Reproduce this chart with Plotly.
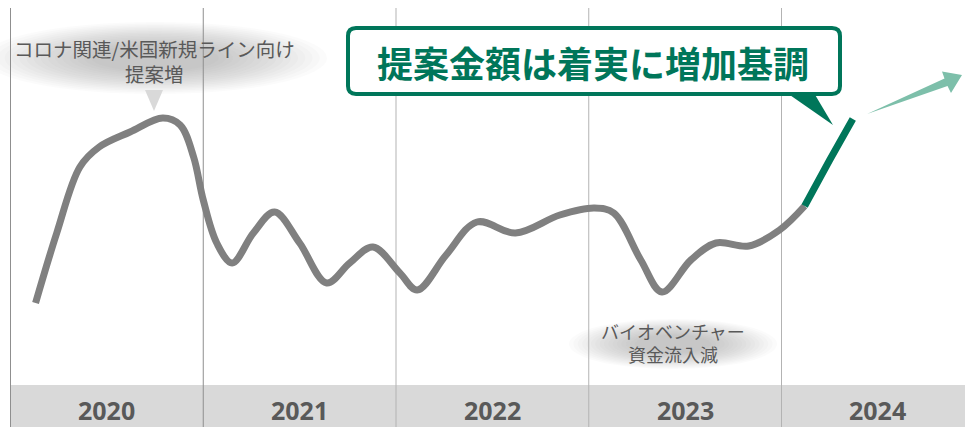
import plotly.graph_objects as go

# ---------------- data ----------------
years = [2020, 2021, 2022, 2023, 2024]
year_labels = ["2020", "2021", "2022", "2023", "2024"]

# proposal amount index over time (fractional years)
t_hist = [2020.13, 2020.24, 2020.36, 2020.46, 2020.62, 2020.79, 2020.88, 2020.95,
          2021.00, 2021.07, 2021.15, 2021.26, 2021.37, 2021.50, 2021.64, 2021.76,
          2021.88, 2022.02, 2022.11, 2022.26, 2022.42, 2022.62, 2022.85, 2023.03,
          2023.13, 2023.27, 2023.38, 2023.53, 2023.66, 2023.83, 2023.99, 2024.12]
v_hist = [124, 194, 260, 280, 295, 309, 302, 270,
          227, 184, 164, 194, 215, 184, 144, 164,
          180, 154, 137, 172, 205, 194, 212, 219,
          214, 167, 135, 167, 184, 181, 197, 221]

t_recent = [2024.12, 2024.25, 2024.37]
v_recent = [221, 267, 308]

note_top = "コロナ関連/米国新規ライン向け<br>提案増"
note_bottom = "バイオベンチャー<br>資金流入減"
headline = "提案金額は着実に増加基調"

# ---------------- styling helpers ----------------
W, H = 965, 427
GREEN = "#00765a"
GREY_TXT = "#595959"
FONT = "Noto Sans CJK JP"


def px(x, y):
    return x / W, 1 - y / H


def path_from(points, close=True):
    s = ""
    for i, (x, y) in enumerate(points):
        X, Y = px(x, y)
        s += ("M" if i == 0 else "L") + f"{X:.5f},{Y:.5f} "
    return s + ("Z" if close else "")


def rounded_rect(x0, y0, x1, y1, r):
    def P(x, y):
        X, Y = px(x, y)
        return f"{X:.5f},{Y:.5f}"
    return (f"M{P(x0 + r, y0)} L{P(x1 - r, y0)} Q{P(x1, y0)} {P(x1, y0 + r)} "
            f"L{P(x1, y1 - r)} Q{P(x1, y1)} {P(x1 - r, y1)} "
            f"L{P(x0 + r, y1)} Q{P(x0, y1)} {P(x0, y1 - r)} "
            f"L{P(x0, y0 + r)} Q{P(x0, y0)} {P(x0 + r, y0)} Z")


shapes = []

# bottom year band
x_lo = 2020 - 10.5 / 192.75
x_hi = 2020 + (W - 10.5) / 192.75
shapes.append(dict(type="rect", xref="x", yref="y", x0=2020, x1=x_hi, y0=0, y1=42,
                   fillcolor="#d9d9d9", line_width=0, layer="below"))

# vertical year separators
for i, yr in enumerate(years):
    shapes.append(dict(type="line", xref="x", yref="y", x0=yr, x1=yr, y0=0, y1=419,
                       line=dict(color="#8f8f8f" if i < 2 else "#b3b3b3", width=1),
                       layer="below"))


# soft glows behind notes
def glow(cx, cy, rx, ry, n=16):
    for i in range(n):
        s = 1 - i * 0.042
        x0, y0 = px(cx - rx * s, cy - ry * s)
        x1, y1 = px(cx + rx * s, cy + ry * s)
        shapes.append(dict(type="circle", xref="paper", yref="paper",
                           x0=x0, x1=x1, y0=y1, y1=y0,
                           fillcolor="rgba(120,120,120,0.03)", line_width=0,
                           layer="below"))


glow(155, 58, 172, 36)
glow(673, 344, 104, 25)

# pointer triangle for top note
shapes.append(dict(type="path", xref="paper", yref="paper",
                   path=path_from([(145, 90), (163, 90), (154, 111)]),
                   fillcolor="#d9d9d9", line_width=0, layer="below"))

# callout box
shapes.append(dict(type="path", xref="paper", yref="paper",
                   path=rounded_rect(348, 28, 840, 94, 8),
                   fillcolor="white", line=dict(color=GREEN, width=4)))
shapes.append(dict(type="path", xref="paper", yref="paper",
                   path=path_from([(787, 93), (814, 93), (833, 125)]),
                   fillcolor=GREEN, line_width=0))

# growth arrow
shapes.append(dict(type="path", xref="paper", yref="paper",
                   path=path_from([(867, 114), (944.5, 78.5), (942, 71.5), (962, 75),
                                   (951, 93), (947.5, 86)]),
                   fillcolor="#7dbfaa", line_width=0))

fig = go.Figure()
fig.add_trace(go.Scatter(x=t_hist, y=v_hist, mode="lines",
                         line=dict(color="#808080", width=7, shape="spline", smoothing=1.0),
                         hoverinfo="skip"))
fig.add_trace(go.Scatter(x=t_recent, y=v_recent, mode="lines",
                         line=dict(color=GREEN, width=7, shape="spline", smoothing=0.6),
                         hoverinfo="skip"))

annotations = []
for yr, lab in zip(years, year_labels):
    annotations.append(dict(x=yr + 0.5, y=17, xref="x", yref="y", text=f"<b>{lab}</b>",
                            showarrow=False, xanchor="center", yanchor="middle",
                            font=dict(family="Open Sans", size=25, color=GREY_TXT)))

ax, ay = px(154, 61)
annotations.append(dict(x=ax, y=ay, xref="paper", yref="paper", text=note_top,
                        showarrow=False, align="center", xanchor="center", yanchor="middle",
                        font=dict(family=FONT, size=19.5, color=GREY_TXT)))
bx, by = px(673, 342)
annotations.append(dict(x=bx, y=by, xref="paper", yref="paper", text=note_bottom,
                        showarrow=False, align="center", xanchor="center", yanchor="middle",
                        font=dict(family=FONT, size=18, color=GREY_TXT)))
hx, hy = px(593, 62)
annotations.append(dict(x=hx, y=hy, xref="paper", yref="paper", text=f"<b>{headline}</b>",
                        showarrow=False, xanchor="center", yanchor="middle",
                        font=dict(family=FONT, size=36, color=GREEN)))

fig.update_layout(
    width=W, height=H,
    margin=dict(l=0, r=0, t=0, b=0),
    paper_bgcolor="white", plot_bgcolor="white",
    showlegend=False,
    xaxis=dict(range=[x_lo, x_hi], visible=False, fixedrange=True),
    yaxis=dict(range=[0, H], visible=False, fixedrange=True),
    shapes=shapes,
    annotations=annotations,
)

fig.write_html("out.html", config={"displayModeBar": False},
               post_script="document.body.style.margin='0';")
